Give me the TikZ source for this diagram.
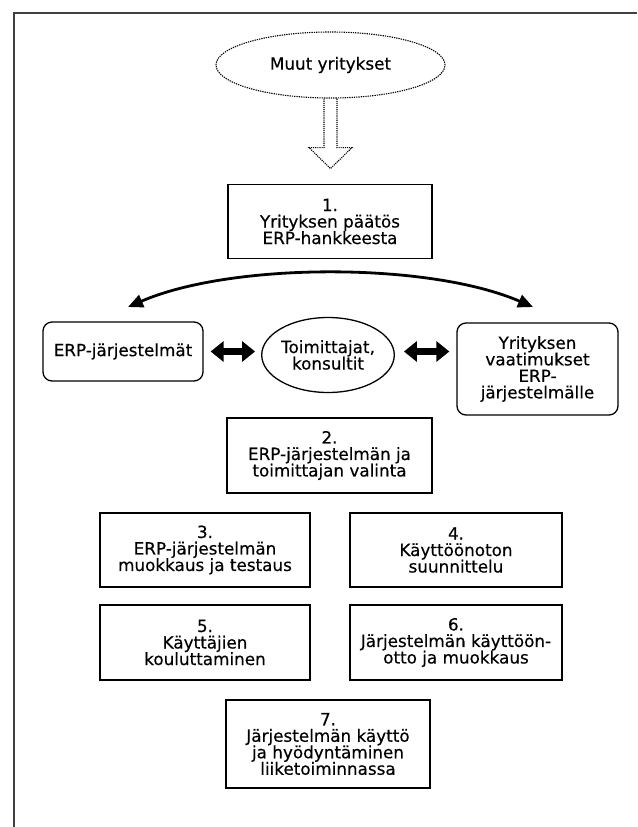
\documentclass[tikz,border=0pt]{standalone}
\usepackage{fontspec}
\setmainfont{DejaVu Sans}[FakeBold=0.4]
\usepackage{tikz}
\usetikzlibrary{arrows.meta, positioning, shapes.geometric, calc}

\begin{document}
\begin{tikzpicture}[
        x=1pt, y=-1pt,
        font=\fontsize{16.8}{16.5}\selectfont,
        stepbox/.style={rectangle, draw, line width=1.3pt, align=center,
                        inner sep=0pt, minimum width=#1, minimum height=74pt},
        stepbox/.default=205pt,
        roundbox/.style={rectangle, rounded corners=9pt, draw, line width=1.3pt,
                         align=center, inner sep=0pt, minimum width=160pt},
        oval/.style={ellipse, draw, line width=1.3pt, align=center, inner sep=0pt},
        dotline/.style={densely dotted, line width=1.1pt},
        curvearrow/.style={{Triangle[length=15pt, width=13pt]}-{Triangle[length=15pt, width=13pt]},
                           line width=2.8pt},
        twoway/.style={{Triangle[length=13pt, width=20pt]}-{Triangle[length=13pt, width=20pt]},
                       line width=6.5pt}
      ]
      \useasboundingbox (0,0) rectangle (637,827);
      \draw[line width=1.4pt, black!75] (14,827) -- (14,13) -- (637,13);

      \node[oval, dotline, minimum width=229pt, minimum height=66pt] (muut) at (330.5,65) {Muut yritykset};
      \draw[dotline] ($(muut.south)+(-6.5,0)$) -- ++(0,49) -- ++(-15,0) -- ++(21.5,21)
                     -- ++(21.5,-21) -- ++(-15,0) -- ++(0,-49);

      \node[stepbox=204pt] (s1) at (330,221.5) {1.\\Yrityksen päätös\\ERP-hankkeesta};

      \node[roundbox, minimum height=59pt] (erp) at (123,351.5) {ERP-järjestelmät};
      \node[oval, minimum width=130pt, minimum height=75pt] (toim) at (328,355) {Toimittajat,\\konsultit};
      \node[roundbox, minimum width=161pt, minimum height=92pt] (vaat) at (537.5,369)
            {Yrityksen\\vaatimukset\\ERP-\\järjestelmälle};

      \coordinate (lefttip)  at (128,307);
      \coordinate (righttip) at (533,307);
      \draw[curvearrow] (lefttip) .. controls (232,262) and (429,262) .. (righttip);

      \draw[twoway, shorten <=7pt, shorten >=6pt] (erp.east) -- (toim.west |- erp.east);
      \draw[twoway, shorten <=9pt, shorten >=7pt] (toim.east |- erp.east) -- (vaat.west |- erp.east);

      \node[stepbox, minimum height=75pt] (s2) at (329.5,455.5) {2.\\ERP-järjestelmän ja\\toimittajan valinta};

      \node[stepbox=210pt] (s3) at (205,550) {3.\\ERP-järjestelmän\\muokkaus ja testaus};
      \node[stepbox=212pt] (s4) at (456,550) {4.\\Käyttöönoton\\suunnittelu};
      \node[stepbox=210pt, minimum height=75pt] (s5) at (205,642.5) {5.\\Käyttäjien\\kouluttaminen};
      \node[stepbox=212pt, minimum height=75pt] (s6) at (456,642.5) {6.\\Järjestelmän käyttöön-\\otto ja muokkaus};

      \node[stepbox=204pt, minimum height=88pt] (s7) at (328,744)
            {7.\\Järjestelmän käyttö\\ja hyödyntäminen\\liiketoiminnassa};
    \end{tikzpicture}
\end{document}
